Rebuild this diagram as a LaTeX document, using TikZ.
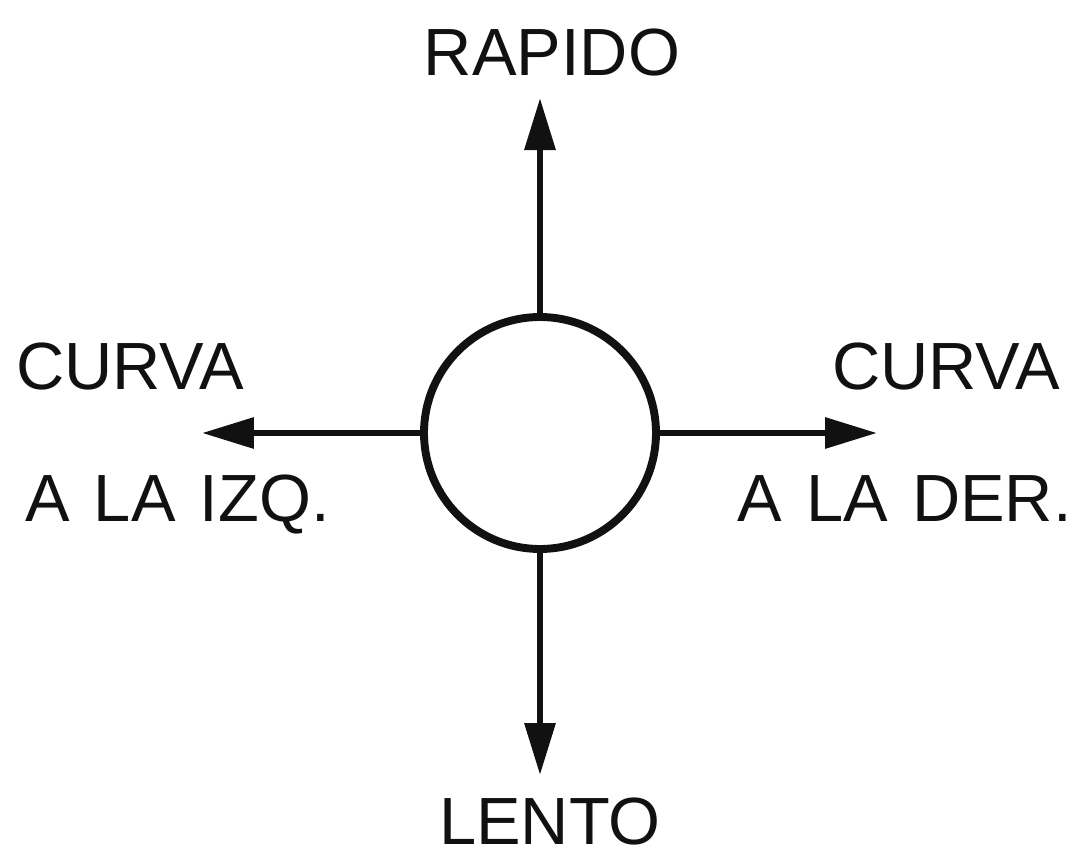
\documentclass[tikz,border=0pt]{standalone}
\usepackage{fontspec}
\setmainfont[WordSpace=1.3]{Liberation Sans}
\usepackage{xcolor}
\usepackage{tikz}
\usetikzlibrary{positioning, arrows.meta}
\definecolor{ink}{HTML}{111111}
\tikzset{
  dial/.style={circle, draw=ink, line width=4.5pt, fill=white, minimum size=46.4mm, inner sep=0pt},
  dirtext/.style={font=\fontsize{38}{42}\selectfont, text=ink, inner sep=0pt},
  arrow/.style={-{Triangle[length=10.4mm, width=6mm]}, line width=3.6pt, draw=ink},
}

\begin{document}
\begin{tikzpicture}
  \useasboundingbox (-10.8,-8.56) rectangle (10.7,8.66);
  % Dial in the middle, one arrow per direction.
  \node[dial] (dial) at (0,0) {};
  \coordinate (fast) at (0,6.7);
  \coordinate (slow) at (0,-6.84);
  \coordinate (left) at (-6.76,0);
  \coordinate (right) at (6.74,0);
  \draw[arrow] (dial.north) -- (fast);
  \draw[arrow] (dial.south) -- (slow);
  \draw[arrow] (dial.west) -- (left);
  \draw[arrow] (dial.east) -- (right);
  \node[dirtext, anchor=base] (rapido) at (0.24,7.16) {RAPIDO};
  \node[dirtext, anchor=base] (lento) at (0.2,-8.22) {LENTO};
  \node[dirtext, anchor=base west] (curvaizq) at (-10.48,0.88) {CURVA};
  \node[dirtext, anchor=base west] (izq) at (-10.3,-1.76) {A LA IZQ.};
  \node[dirtext, anchor=base east] (curvader) at (10.4,0.88) {CURVA};
  \node[dirtext, anchor=base east] (der) at (10.64,-1.76) {A LA DER.};
\end{tikzpicture}
\end{document}
